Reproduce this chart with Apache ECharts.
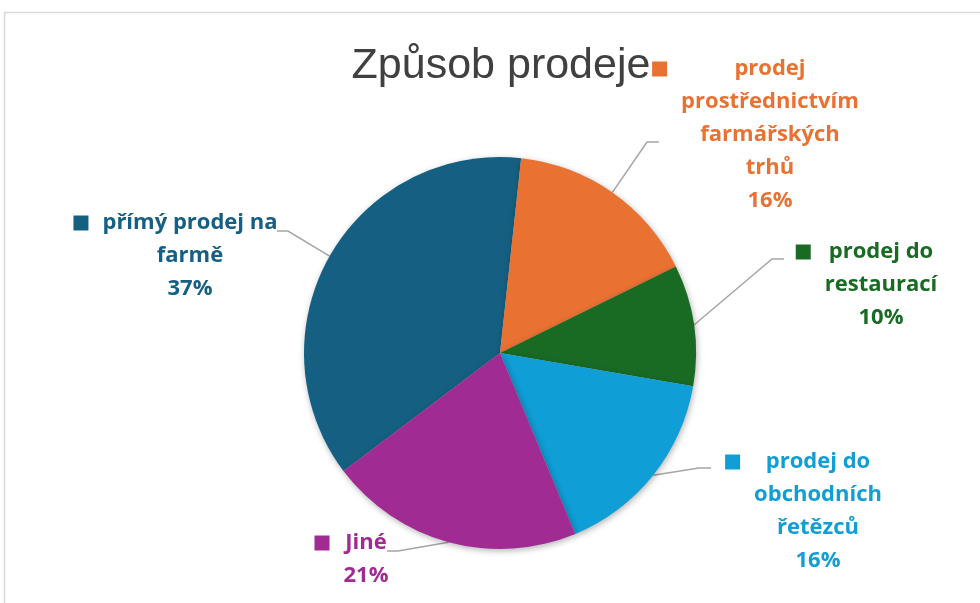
<!DOCTYPE html>
<html>
<head>
    <meta charset="utf-8">
    <title>Způsob prodeje</title>
    <script src="https://cdn.jsdelivr.net/npm/echarts@6/dist/echarts.min.js"></script>
    <style>
        html, body { margin: 0; padding: 0; background: #fff; }
        #chart { width: 980px; height: 603px; }
    </style>
</head>
<body>
    <div id="chart"></div>

    <script type="text/javascript">
        // data
        var categories = [
            'přímý prodej na\nfarmě',
            'prodej\nprostřednictvím\nfarmářských\ntrhů',
            'prodej do\nrestaurací',
            'prodej do\nobchodních\nřetězců',
            'Jiné'
        ];
        var values = [37, 16, 10, 16, 21];
        var colors = ['#156082', '#E97132', '#196B24', '#0F9ED5', '#A02B93'];

        // where each label sits: centre x / first line middle y, and leader end point
        var labelAt = [[190, 223], [770, 69], [881, 252], [818, 462], [366, 543]];
        var lineEnd = [[277, 231], [659, 142], [784, 259], [711, 468], [387, 551]];

        var rich = {
            g: { width: 14, align: 'left' },
            sl: { width: 29, align: 'left' },
            sr: { width: 29, align: 'right' }
        };
        colors.forEach(function (c, i) {
            rich['m' + i] = { width: 15, height: 15, backgroundColor: c, align: 'left', lineHeight: 33 };
            rich['t' + i] = { color: c, align: 'center', fontSize: 22, fontWeight: 'bold', lineHeight: 33,
                fontFamily: 'Open Sans' };
        });

        function labelText(p) {
            var lines = p.name.split('\n').concat([Math.round(p.percent) + '%']);
            return lines.map(function (t, i) {
                var head = i === 0 ? '{m' + p.dataIndex + '|}{g|}' : '{sl|}';
                return head + '{t' + p.dataIndex + '|' + t + '}{sr|}';
            }).join('\n');
        }

        var myChart = echarts.init(document.getElementById('chart'));

        myChart.setOption({
            animation: false,
            title: {
                text: 'Způsob prodeje',
                left: 496,
                top: 40,
                textAlign: 'center',
                textStyle: { fontFamily: 'Liberation Sans', fontSize: 43, fontWeight: 'normal', color: '#404040' }
            },
            graphic: [{
                type: 'rect',
                shape: { x: 4.5, y: 12.5, width: 1000, height: 620 },
                style: { fill: 'none', stroke: '#d9d9d9', lineWidth: 1.5 },
                silent: true
            }],
            series: [{
                type: 'pie',
                center: [500, 353],
                radius: 196,
                startAngle: 217,
                clockwise: true,
                data: categories.map(function (n, i) {
                    return { name: n, value: values[i], itemStyle: { color: colors[i] } };
                }),
                itemStyle: {
                    borderWidth: 0,
                    shadowBlur: 6,
                    shadowColor: 'rgba(0,0,0,0.3)',
                    shadowOffsetX: 1,
                    shadowOffsetY: 2
                },
                label: {
                    show: true,
                    position: 'outside',
                    formatter: labelText,
                    rich: rich,
                    lineHeight: 33
                },
                labelLine: {
                    show: true,
                    lineStyle: { color: '#a5a5a5', width: 1.5 }
                },
                labelLayout: function (params) {
                    var i = params.dataIndex;
                    var start = params.labelLinePoints[0];
                    var end = lineEnd[i];
                    var elbowX = end[0] + (end[0] < 500 ? 11 : -12);
                    return {
                        x: labelAt[i][0],
                        y: labelAt[i][1] - 16.5,
                        align: 'center',
                        verticalAlign: 'top',
                        labelLinePoints: [start, [elbowX, end[1]], end]
                    };
                },
                emphasis: { disabled: true }
            }]
        });
    </script>
</body>
</html>
